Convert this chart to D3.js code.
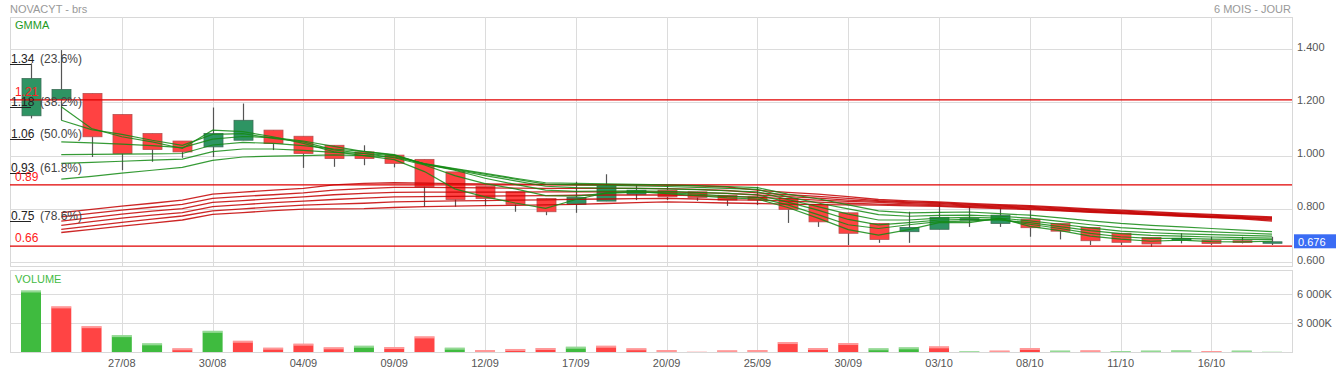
<!DOCTYPE html>
<html>
<head>
<meta charset="utf-8">
<script src="https://cdn.jsdelivr.net/npm/d3@7"></script>
<style>
  body { margin: 0; background: #fff; }
  svg { display: block; font-family: Arial, "Liberation Sans", sans-serif; }
</style>
</head>
<body>
<svg id="chart" width="1337" height="373"></svg>
<script>
// trading days shown
const dates = ["22/08","23/08","26/08","27/08","28/08","29/08","30/08","02/09","03/09","04/09",
  "05/09","06/09","09/09","10/09","11/09","12/09","13/09","16/09","17/09","18/09","19/09","20/09",
  "23/09","24/09","25/09","26/09","27/09","30/09","01/10","02/10","03/10","04/10","07/10","08/10",
  "09/10","10/10","11/10","14/10","15/10","16/10","17/10","18/10"];
const tickDates = ["27/08","30/08","04/09","09/09","12/09","17/09","20/09","25/09","30/09","03/10","08/10","11/10","16/10"];

const open  = [1.150,1.212,1.234,1.155,1.083,1.055,1.033,1.058,1.096,1.073,1.039,1.014,1.002,0.986,0.939,0.885,0.864,0.839,0.817,0.829,0.855,0.870,0.864,0.851,0.845,0.839,0.817,0.785,0.745,0.714,0.723,0.758,0.745,0.761,0.745,0.730,0.708,0.692,0.682,0.682,0.680,0.676];
const high  = [1.347,1.397,1.234,1.155,1.083,1.055,1.181,1.196,1.096,1.073,1.039,1.039,1.002,0.986,0.939,0.885,0.864,0.839,0.902,0.930,0.889,0.889,0.864,0.851,0.883,0.839,0.817,0.785,0.745,0.789,0.824,0.808,0.802,0.795,0.745,0.730,0.708,0.692,0.708,0.695,0.695,0.695];
const low   = [1.140,1.133,0.995,0.945,0.977,0.992,0.995,1.058,1.021,0.954,0.958,0.964,0.956,0.808,0.808,0.810,0.789,0.776,0.785,0.829,0.833,0.833,0.830,0.811,0.814,0.747,0.732,0.664,0.672,0.672,0.723,0.732,0.732,0.695,0.685,0.664,0.664,0.657,0.670,0.664,0.670,0.664];
const close = [1.290,1.249,1.071,1.008,1.023,1.014,1.083,1.133,1.046,1.008,0.989,0.989,0.971,0.883,0.835,0.839,0.817,0.789,0.843,0.886,0.870,0.845,0.843,0.833,0.833,0.798,0.751,0.708,0.685,0.730,0.768,0.763,0.776,0.729,0.716,0.680,0.674,0.668,0.689,0.670,0.673,0.676];

// volume in thousands, and bar colour (1 = green)
const volume = [6340,4710,2680,1760,920,410,2200,1180,470,880,510,670,540,1630,470,230,340,440,570,670,410,230,50,200,230,1050,440,950,410,510,610,100,170,440,170,200,130,170,200,130,170,50];
const volUp  = [1,0,0,1,1,0,1,0,0,0,0,1,0,0,1,0,0,0,1,0,0,0,0,0,0,0,0,0,1,1,0,1,0,0,1,0,1,1,1,0,1,1];

// GMMA, from the 2nd day on. short (green) then long (red)
const gmmaShort = [
  [1.184,1.102,1.071,1.052,1.027,1.096,1.090,1.071,1.046,1.015,1.000,0.985,0.940,0.875,0.845,0.822,0.802,0.835,0.860,0.866,0.857,0.850,0.841,0.837,0.805,0.765,0.722,0.701,0.722,0.748,0.748,0.765,0.734,0.718,0.697,0.686,0.678,0.682,0.677,0.676,0.678],
  [1.133,1.098,1.080,1.058,1.039,1.080,1.083,1.065,1.052,1.022,1.008,0.992,0.965,0.925,0.895,0.875,0.850,0.848,0.858,0.863,0.860,0.855,0.848,0.843,0.815,0.778,0.740,0.726,0.740,0.752,0.754,0.760,0.742,0.726,0.708,0.695,0.689,0.689,0.686,0.685,0.684],
  [1.052,1.048,1.043,1.038,1.030,1.062,1.072,1.068,1.055,1.035,1.015,1.002,0.968,0.945,0.915,0.892,0.870,0.866,0.867,0.868,0.866,0.862,0.858,0.853,0.825,0.795,0.760,0.740,0.748,0.758,0.760,0.758,0.748,0.733,0.718,0.707,0.700,0.697,0.694,0.692,0.690],
  [1.004,1.005,1.006,1.007,1.008,1.040,1.050,1.046,1.038,1.025,1.016,1.004,0.968,0.947,0.925,0.905,0.885,0.880,0.878,0.877,0.875,0.872,0.868,0.864,0.835,0.808,0.780,0.758,0.758,0.765,0.768,0.765,0.755,0.742,0.728,0.716,0.710,0.706,0.703,0.700,0.697],
  [0.971,0.975,0.979,0.983,0.987,1.015,1.025,1.025,1.020,1.012,1.008,1.000,0.969,0.949,0.930,0.912,0.893,0.890,0.888,0.886,0.884,0.881,0.877,0.873,0.845,0.822,0.800,0.778,0.772,0.775,0.776,0.772,0.765,0.753,0.740,0.729,0.723,0.718,0.713,0.709,0.705],
  [0.912,0.922,0.934,0.945,0.956,0.982,0.995,0.998,1.000,1.003,1.000,0.995,0.970,0.951,0.933,0.915,0.898,0.896,0.894,0.892,0.890,0.887,0.884,0.880,0.855,0.838,0.815,0.792,0.785,0.787,0.788,0.782,0.776,0.766,0.755,0.745,0.738,0.732,0.726,0.720,0.714]
];
const gmmaLong = [
  [0.786,0.798,0.810,0.821,0.833,0.855,0.863,0.870,0.877,0.890,0.896,0.898,0.897,0.895,0.894,0.893,0.892,0.891,0.891,0.890,0.889,0.886,0.882,0.870,0.862,0.855,0.846,0.835,0.830,0.826,0.820,0.816,0.812,0.806,0.800,0.795,0.789,0.784,0.779,0.774,0.770],
  [0.770,0.783,0.795,0.806,0.817,0.839,0.847,0.853,0.860,0.870,0.876,0.881,0.881,0.880,0.879,0.878,0.877,0.877,0.877,0.877,0.876,0.873,0.869,0.860,0.853,0.847,0.839,0.831,0.826,0.823,0.817,0.813,0.809,0.803,0.797,0.792,0.786,0.781,0.776,0.771,0.767],
  [0.754,0.767,0.780,0.791,0.801,0.824,0.831,0.838,0.845,0.853,0.858,0.862,0.863,0.863,0.863,0.863,0.864,0.864,0.864,0.864,0.864,0.861,0.858,0.852,0.846,0.840,0.833,0.828,0.823,0.820,0.814,0.810,0.806,0.800,0.794,0.789,0.783,0.778,0.773,0.768,0.764],
  [0.738,0.752,0.765,0.776,0.786,0.808,0.816,0.823,0.829,0.835,0.840,0.845,0.846,0.847,0.848,0.849,0.850,0.851,0.852,0.852,0.852,0.850,0.847,0.843,0.838,0.833,0.828,0.824,0.819,0.816,0.811,0.807,0.803,0.797,0.791,0.786,0.781,0.776,0.771,0.766,0.761],
  [0.723,0.736,0.749,0.761,0.773,0.792,0.800,0.807,0.814,0.818,0.821,0.826,0.828,0.830,0.831,0.833,0.834,0.836,0.837,0.838,0.839,0.837,0.834,0.833,0.829,0.825,0.821,0.818,0.815,0.812,0.808,0.804,0.800,0.794,0.789,0.784,0.779,0.774,0.769,0.764,0.758],
  [0.711,0.723,0.735,0.746,0.758,0.779,0.786,0.793,0.799,0.800,0.801,0.805,0.808,0.810,0.812,0.813,0.815,0.817,0.820,0.823,0.826,0.824,0.822,0.820,0.818,0.816,0.815,0.814,0.811,0.809,0.805,0.801,0.797,0.792,0.787,0.782,0.777,0.772,0.767,0.762,0.754]
];

const priceTicks = [1.4, 1.2, 1.0, 0.8, 0.6];
const volTicks = [3000, 6000];
const fibLevels = [1.34, 1.18, 1.06, 0.93, 0.75];
const fibPct = ["(23.6%)", "(38.2%)", "(50.0%)", "(61.8%)", "(78.6%)"];
const redLevels = [1.21, 0.89, 0.66];
const lastPrice = 0.676;

const svg = d3.select("#chart");
const left = 10, right = 1292;
const main = { top: 17, bottom: 266 };
const vol = { top: 270, bottom: 352 };

const idx = d3.range(dates.length);
const x = d3.scalePoint().domain(idx).range([31, 1272]);
const y = d3.scaleLinear().domain([0.6, 1.4]).range([262, 49.3]);
const yv = d3.scaleLinear().domain([0, 6000]).range([352.3, 293.8]);

// panels
[main, vol].forEach(p => {
  svg.append("rect")
    .attr("x", left + 0.5).attr("y", p.top + 0.5)
    .attr("width", right - left).attr("height", p.bottom - p.top)
    .attr("fill", "none").attr("stroke", "#d8d8d8");
});

const grid = svg.append("g").attr("stroke", "#dcdcdc").attr("stroke-width", 1);
tickDates.forEach(t => {
  const xi = Math.round(x(dates.indexOf(t))) + 0.5;
  grid.append("line").attr("x1", xi).attr("x2", xi).attr("y1", main.top).attr("y2", main.bottom);
  grid.append("line").attr("x1", xi).attr("x2", xi).attr("y1", vol.top).attr("y2", vol.bottom);
});
priceTicks.forEach(v => {
  const yi = Math.round(y(v)) + 0.5;
  grid.append("line").attr("x1", left).attr("x2", right).attr("y1", yi).attr("y2", yi);
});
volTicks.forEach(v => {
  const yi = Math.round(yv(v)) + 0.5;
  grid.append("line").attr("x1", left).attr("x2", right).attr("y1", yi).attr("y2", yi);
});

// price axis labels
svg.append("g").selectAll("text").data(priceTicks).join("text")
  .attr("x", 1297).attr("y", d => y(d) + 1.5)
  .attr("font-size", 11).attr("fill", "#555")
  .text(d => d3.format(".3f")(d));
svg.append("g").selectAll("text").data(volTicks).join("text")
  .attr("x", 1297).attr("y", d => yv(d) + 4)
  .attr("font-size", 11).attr("fill", "#555")
  .text(d => d3.format(",")(d).replace(",", " ") + "K");

// date labels
svg.append("g").selectAll("text").data(tickDates).join("text")
  .attr("x", d => x(dates.indexOf(d))).attr("y", 367)
  .attr("text-anchor", "middle").attr("font-size", 11).attr("fill", "#555")
  .text(d => d);

// volume bars
const bw = 20;
const vbars = svg.append("g");
idx.forEach(i => {
  const top = yv(volume[i]);
  vbars.append("rect")
    .attr("x", x(i) - bw / 2).attr("y", top)
    .attr("width", bw).attr("height", vol.bottom - top)
    .attr("fill", volUp[i] ? "#3fbb3f" : "#ff4444");
  vbars.append("rect")
    .attr("x", x(i) - bw / 2).attr("y", top)
    .attr("width", bw).attr("height", Math.min(2, vol.bottom - top))
    .attr("fill", "#fff").attr("opacity", 0.45);
});

// candles
const cw = 19;
const candles = svg.append("g");
idx.forEach(i => {
  const up = close[i] >= open[i];
  const xc = Math.round(x(i)) + 0.5;
  candles.append("line")
    .attr("x1", xc).attr("x2", xc).attr("y1", y(high[i])).attr("y2", y(low[i]))
    .attr("stroke", "#555").attr("stroke-width", 1.2);
  const y0 = y(Math.max(open[i], close[i])), y1 = y(Math.min(open[i], close[i]));
  candles.append("rect")
    .attr("x", xc - cw / 2).attr("y", y0)
    .attr("width", cw).attr("height", Math.max(1.5, y1 - y0))
    .attr("fill", up ? "#2e9463" : "#ff4242")
    .attr("stroke", up ? "#3d6e58" : "#b85050").attr("stroke-width", 0.8);
});

// red support/resistance levels
const lv = svg.append("g");
redLevels.forEach(v => {
  lv.append("line").attr("x1", left).attr("x2", right)
    .attr("y1", y(v)).attr("y2", y(v))
    .attr("stroke", "#e00000").attr("stroke-width", 1.3);
});

// GMMA lines
const line = d3.line().x((d, k) => x(k + 1)).y(d => y(d));
const gm = svg.append("g").attr("fill", "none");
gmmaLong.forEach(s => {
  gm.append("path").attr("d", line(s))
    .attr("stroke", "#c40000").attr("stroke-width", 1.3).attr("stroke-opacity", 0.85);
});
gmmaShort.forEach(s => {
  gm.append("path").attr("d", line(s))
    .attr("stroke", "#138a13").attr("stroke-width", 1.2).attr("stroke-opacity", 0.85);
});

// fibonacci labels
const fib = svg.append("g").attr("font-size", 12);
fibLevels.forEach((v, k) => {
  const yl = Math.round(y(v)) - 0.5;
  fib.append("line").attr("x1", left).attr("x2", 31).attr("y1", yl).attr("y2", yl)
    .attr("stroke", "#222").attr("stroke-width", 1);
  fib.append("text").attr("x", 11).attr("y", yl - 2).attr("fill", "#222").text(d3.format(".2f")(v));
  fib.append("text").attr("x", 40).attr("y", yl - 2).attr("fill", "#444").text(fibPct[k]);
});
const redLab = svg.append("g").attr("font-size", 12).attr("fill", "#ff2020");
redLevels.forEach(v => {
  redLab.append("text").attr("x", 15).attr("y", y(v) - 4).text(d3.format(".2f")(v));
});

// last price tag
svg.append("rect").attr("x", 1294).attr("y", y(lastPrice) - 7.5)
  .attr("width", 42).attr("height", 14).attr("fill", "#3a6cf4");
svg.append("text").attr("x", 1298).attr("y", y(lastPrice) + 4)
  .attr("font-size", 11).attr("fill", "#fff").text(d3.format(".3f")(lastPrice));

// titles
svg.append("text").attr("x", 10).attr("y", 13).attr("font-size", 11).attr("fill", "#999").text("NOVACYT - brs");
svg.append("text").attr("x", 1291).attr("y", 13).attr("text-anchor", "end")
  .attr("font-size", 11).attr("fill", "#999").text("6 MOIS - JOUR");
svg.append("text").attr("x", 15).attr("y", 29).attr("font-size", 11).attr("fill", "#1f9a1f").text("GMMA");
svg.append("text").attr("x", 15).attr("y", 283).attr("font-size", 11).attr("fill", "#44bb44").text("VOLUME");
</script>
</body>
</html>
